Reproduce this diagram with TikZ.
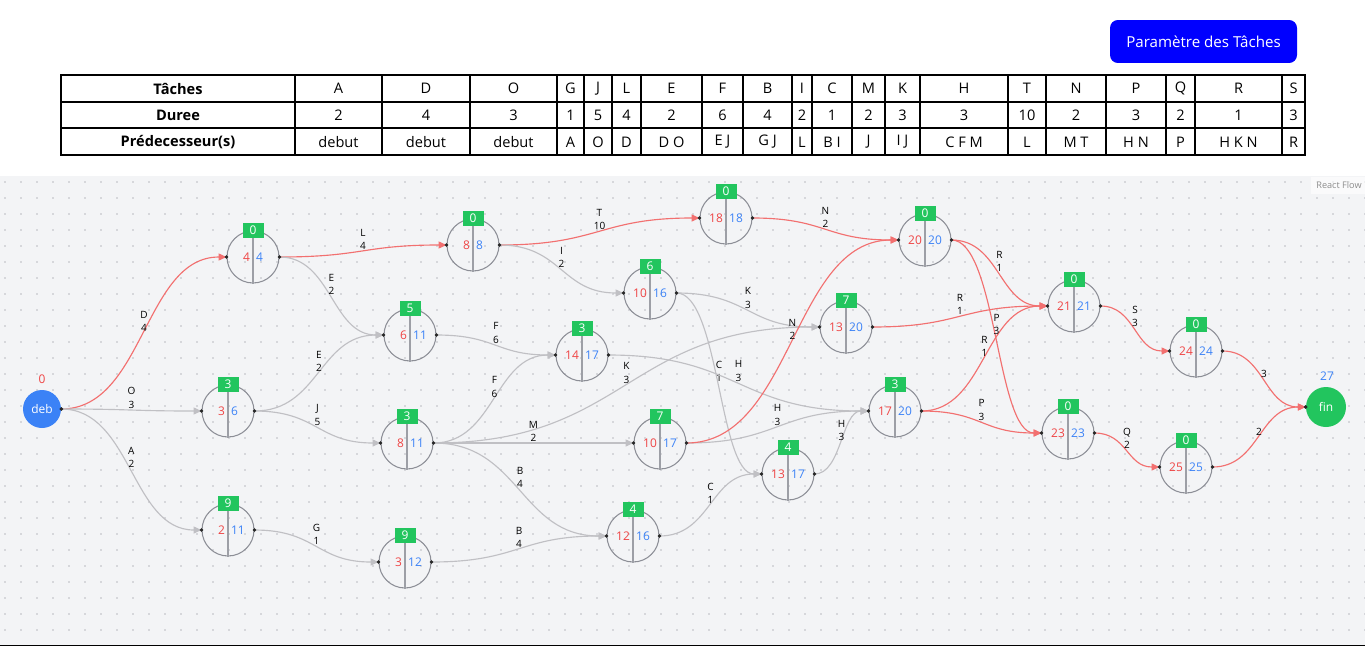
\documentclass[tikz,border=0pt]{standalone}
\usepackage{fontspec}
\setmainfont{Open Sans}
\usepackage{tikz}
\usetikzlibrary{arrows.meta,calc}
\definecolor{flowBg}{RGB}{243,244,246}
\definecolor{gridDot}{RGB}{186,187,193}
\definecolor{critRed}{RGB}{242,112,112}
\definecolor{normGray}{RGB}{192,192,196}
\definecolor{earlyRed}{RGB}{239,68,68}
\definecolor{lateBlue}{RGB}{59,130,246}
\definecolor{slackGreen}{RGB}{34,197,94}
\definecolor{ringGray}{RGB}{140,142,150}
\definecolor{btnBlue}{RGB}{0,0,255}
\tikzstyle{cellline}=[draw=black, line width=0.6pt]
\tikzstyle{cell}=[inner sep=0pt, font=\fontsize{8.3}{9.5}\selectfont]
\tikzstyle{headcell}=[inner sep=0pt, font=\fontsize{8.3}{9.5}\selectfont\bfseries]
\tikzstyle{evtnode}=[circle, draw=ringGray, line width=0.6pt, minimum size=1.04cm, inner sep=0pt]
\tikzstyle{divider}=[draw=ringGray!85, line width=0.7pt]
\tikzstyle{esnum}=[inner sep=0pt, text=earlyRed, font=\fontsize{6.8}{8}\selectfont]
\tikzstyle{lsnum}=[inner sep=0pt, text=lateBlue, font=\fontsize{6.8}{8}\selectfont]
\tikzstyle{slackbox}=[rectangle, fill=slackGreen, text=white, minimum width=0.42cm, minimum height=0.3cm, inner sep=0pt, font=\fontsize{6.8}{8}\selectfont]
\tikzstyle{endnode}=[circle, text=white, inner sep=0pt, font=\fontsize{6.8}{8}\selectfont]
\tikzstyle{handle}=[fill=black!85]
\tikzstyle{flowedge}=[line width=0.65pt, to path={let \p1=(\tikztostart), \p2=(\tikztotarget) in .. controls ({(\x1+\x2)/2},\y1) and ({(\x1+\x2)/2},\y2) .. (\tikztotarget) \tikztonodes}]
\tikzstyle{crit}=[flowedge, draw=critRed, -{Triangle[length=4.5pt,width=4pt]}]
\tikzstyle{norm}=[flowedge, draw=normGray, -{Triangle[length=4.5pt,width=4pt]}]
\tikzstyle{elabel}=[midway, anchor=south, align=center, inner sep=0.6pt, text=black, font=\fontsize{5.7}{7.6}\selectfont]

\begin{document}
\begin{tikzpicture}[x=0.02cm, y=-0.02cm]
    \useasboundingbox (0,0) rectangle (1365,646);
    \fill[white] (0,0) rectangle (1365,646);

    % --- bouton ---
    \node[rectangle, rounded corners=4.5pt, fill=btnBlue, text=white, minimum width=3.74cm, minimum height=0.86cm,
          font=\fontsize{8.6}{10}\selectfont] (paramBtn) at (1203.5,41.5) {Paramètre des Tâches};

    % --- tableau des taches ---
    \draw[cellline] (61,75) rectangle (1305,155);
    \draw[cellline] (61,102) -- (1305,102);
    \draw[cellline] (61,128) -- (1305,128);
    \node[headcell] (hdTache) at (178,88.5) {Tâches};
    \node[headcell] (hdDuree) at (178,115) {Duree};
    \node[headcell] (hdPred)  at (178,142) {Prédecesseur(s)};
    \foreach \c/\xa/\xb/\du/\pr in {A/295/382/2/debut, D/382/470/4/debut, O/470/557/3/debut,
        G/557/584/1/A, J/584/612/5/O, L/612/641/4/D, E/641/702/2/D O, F/702/743/6/E J,
        B/743/792/4/G J, I/792/812/2/L, C/812/852/1/B I, M/852/885/2/J, K/885/920/3/I J,
        H/920/1008/3/C F M, T/1008/1046/10/L, N/1046/1106/2/M T, P/1106/1166/3/H N,
        Q/1166/1195/2/P, R/1195/1282/1/H K N, S/1282/1305/3/R} {
      \draw[cellline] (\xa,75) -- (\xa,155);
      \node[cell] (tk\c) at ({(\xa+\xb)/2},88.5) {\c};
      \node[cell] (du\c) at ({(\xa+\xb)/2},115) {\du};
      \node[cell] (pr\c) at ({(\xa+\xb)/2},142) {\pr};
    }

    % --- zone du graphe ---
    \fill[flowBg] (0,176) rectangle (1365,645);
    \foreach \gx in {5,21,...,1365} {
      \foreach \gy in {182,198,...,640} {
        \fill[gridDot] (\gx,\gy) circle[radius=0.45pt];
      }
    }
    \fill[white, opacity=0.6] (1311,177) rectangle (1365,194);
    \node[text=black!45, inner sep=0pt, font=\fontsize{5.2}{6}\selectfont] (rfAttr) at (1339,185.5) {React Flow};
    \draw[line width=0.9pt] (0,645.5) -- (1365,645.5);

    % --- debut et fin ---
    \node[endnode, fill=lateBlue, minimum size=0.76cm] (deb) at (42,409) {deb};
    \node[esnum] (debEs) at (42,379) {0};
    \node[endnode, fill=slackGreen, minimum size=0.8cm] (fin) at (1326,407) {fin};
    \node[lsnum] (finLs) at (1327,376) {27};

    % --- etapes : nom/x/y/debut tot/debut tard/marge ---
    \foreach \nm/\x/\y/\a/\b/\m in {n1/253/257/4/4/0, n2/473/245/8/8/0, n3/726/218/18/18/0,
        n4/925/240/20/20/0, n5/410/335/6/11/5, n6/650/293/10/16/6, n7/846/327/13/20/7,
        n8/582/355/14/17/3, n9/228/411/3/6/3, n10/407/443/8/11/3, n11/660/443/10/17/7,
        n12/895/411/17/20/3, n13/228/530/2/11/9, n14/405/562/3/12/9, n15/633/536/12/16/4,
        n16/788/474/13/17/4, n17/1074/306/21/21/0, n18/1196/351/24/24/0,
        n19/1068/433/23/23/0, n20/1186/467/25/25/0} {
      \node[evtnode] (\nm) at (\x,\y) {};
      \draw[divider] (\nm.north) -- (\nm.south);
      \node[esnum, left=1.6pt]  (\nm-es) at (\nm.center) {\a};
      \node[lsnum, right=1.6pt] (\nm-ls) at (\nm.center) {\b};
      \node[slackbox] (\nm-sl) at (\nm.north) {\m};
    }

    % --- taches (arcs) ---
    \foreach \s/\t/\lab/\kind in {deb/n1/D\\4/crit, deb/n9/O\\3/norm, deb/n13/A\\2/norm,
        n1/n2/L\\4/crit, n1/n5/E\\2/norm, n9/n5/E\\2/norm, n9/n10/J\\5/norm,
        n13/n14/G\\1/norm, n2/n3/T\\10/crit, n2/n6/I\\2/norm, n5/n8/F\\6/norm,
        n10/n8/F\\6/norm, n10/n11/M\\2/norm, n10/n15/B\\4/norm, n14/n15/B\\4/norm,
        n10/n7/K\\3/norm, n6/n7/K\\3/norm, n6/n16/C\\1/norm, n15/n16/C\\1/norm,
        n8/n12/H\\3/norm, n11/n12/H\\3/norm, n16/n12/H\\3/norm,
        n3/n4/N\\2/crit, n11/n4/N\\2/crit, n4/n17/R\\1/crit, n7/n17/R\\1/crit,
        n12/n17/R\\1/crit, n4/n19/P\\3/crit, n12/n19/P\\3/crit, n17/n18/S\\3/crit,
        n19/n20/Q\\2/crit, n18/fin/3/crit, n20/fin/2/crit} {
      \draw[\kind] (\s.east) to node[elabel] {\lab} (\t.west);
    }

    % poignees
    \foreach \nm in {n1,n2,n3,n4,n5,n6,n7,n8,n9,n10,n11,n12,n13,n14,n15,n16,n17,n18,n19,n20} {
      \fill[handle] (\nm.west) circle[radius=1.1pt];
      \fill[handle] (\nm.east) circle[radius=1.1pt];
    }
    \fill[handle] (deb.east) circle[radius=1.1pt];
    \fill[handle] (fin.west) circle[radius=1.1pt];
\end{tikzpicture}
\end{document}
